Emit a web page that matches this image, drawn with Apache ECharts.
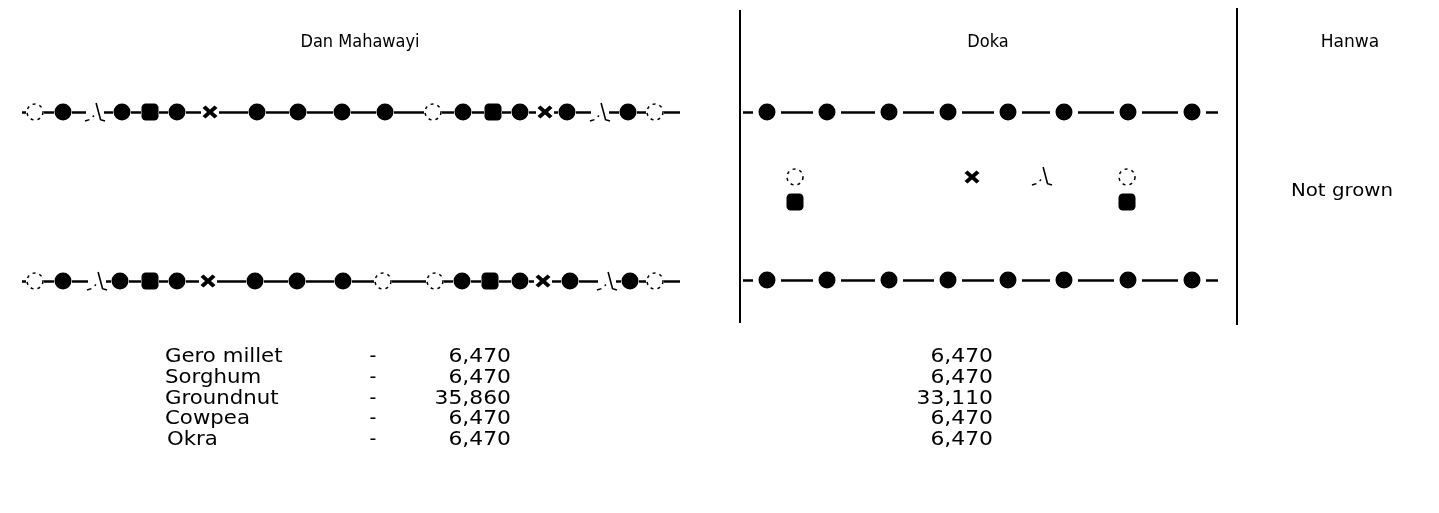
<!DOCTYPE html>
<html>
<head>
    <meta charset="utf-8">
    <title>Planting pattern</title>
    <script src="https://cdn.jsdelivr.net/npm/echarts@6/dist/echarts.min.js"></script>
    <style>
        body { margin: 0; background: #fff; }
        #main { width: 1439px; height: 513px; }
    </style>
</head>
<body>
    <div id="main"></div>
    <script type="text/javascript">
        // plant positions along each row (layout units = px of the field sketch)
        var danTopX = [35, 63, 95, 122, 150, 177, 210, 257, 298, 342, 385, 433, 463, 493, 520, 545, 567, 600, 628, 655];
        var danTopKind = ['open', 'filled', 'okra', 'filled', 'square', 'filled', 'cross', 'filled', 'filled', 'filled',
            'filled', 'open', 'filled', 'square', 'filled', 'cross', 'filled', 'okra', 'filled', 'open'];
        var danBotX = [35, 63, 97, 120, 150, 177, 208, 255, 297, 343, 383, 435, 462, 490, 520, 543, 570, 607, 630, 655];
        var danBotKind = ['open', 'filled', 'okra', 'filled', 'square', 'filled', 'cross', 'filled', 'filled', 'filled',
            'open', 'open', 'filled', 'square', 'filled', 'cross', 'filled', 'okra', 'filled', 'open'];
        var dokaX = [767, 827, 889, 948, 1008, 1064, 1128, 1192];
        var dokaKind = ['filled', 'filled', 'filled', 'filled', 'filled', 'filled', 'filled', 'filled'];
        // intercropped plants between the Doka rows: [x, y, kind]
        var dokaMid = [[795, 177, 'open'], [795, 202, 'square'], [972, 177, 'cross'], [1042, 176, 'okra'],
            [1127, 177, 'open'], [1127, 202, 'square']];

        var rowTopY = 112, rowBotY = 281;

        var crops = ['Gero millet', 'Sorghum', 'Groundnut', 'Cowpea', 'Okra'];
        var danValues = ['6,470', '6,470', '35,860', '6,470', '6,470'];
        var dokaValues = ['6,470', '6,470', '33,110', '6,470', '6,470'];

        var rows = [
            { x: danTopX, kind: danTopKind, y: rowTopY, start: 22, end: 680, gap: 9 },
            { x: danBotX, kind: danBotKind, y: rowBotY, start: 22, end: 680, gap: 9 },
            { x: dokaX, kind: dokaKind, y: rowTopY, start: 743, end: 1218, gap: 14 },
            { x: dokaX, kind: dokaKind, y: rowBotY - 1, start: 743, end: 1218, gap: 14 }
        ];

        var pts = { filled: [], open: [], square: [], cross: [], okra: [] };
        var segs = [];
        rows.forEach(function (r) {
            r.x.forEach(function (x, i) {
                pts[r.kind[i]].push([x, r.y]);
            });
            segs.push({ coords: [[r.start, r.y], [r.x[0] - r.gap, r.y]] });
            for (var i = 0; i < r.x.length - 1; i++) {
                segs.push({ coords: [[r.x[i] + r.gap, r.y], [r.x[i + 1] - r.gap, r.y]] });
            }
            segs.push({ coords: [[r.x[r.x.length - 1] + r.gap, r.y], [r.end, r.y]] });
        });
        dokaMid.forEach(function (p) { pts[p[2]].push([p[0], p[1]]); });

        var myChart = echarts.init(document.getElementById('main'));

        var txt = function (text, x, y, size, align, sx) {
            return {
                type: 'text', x: x, y: y, scaleX: sx || 1,
                style: {
                    text: text, fill: '#000', font: size + 'px "DejaVu Sans"',
                    textAlign: align, textVerticalAlign: 'middle'
                }
            };
        };
        var graphics = [
            txt('Dan Mahawayi', 360, 42, 18, 'center', 0.9),
            txt('Doka', 988, 42, 18, 'center', 0.9),
            txt('Hanwa', 1350, 42, 18, 'center', 0.95),
            txt('Not grown', 1342, 191, 18, 'center', 1.1),
            { type: 'line', shape: { x1: 740, y1: 10, x2: 740, y2: 323 }, style: { stroke: '#000', lineWidth: 2 } },
            { type: 'line', shape: { x1: 1237, y1: 8, x2: 1237, y2: 325 }, style: { stroke: '#000', lineWidth: 2 } }
        ];
        var tableY = [357, 378, 399, 419, 440];
        crops.forEach(function (c, i) {
            graphics.push(txt(c, i === 4 ? 167 : 165, tableY[i], 19, 'left', 1.12));
            graphics.push(txt('-', 373, tableY[i], 19, 'center'));
            graphics.push(txt(danValues[i], 511, tableY[i], 19, 'right', 1.15));
            graphics.push(txt(dokaValues[i], 993, tableY[i], 19, 'right', 1.15));
        });

        var option = {
            animation: false,
            backgroundColor: '#fff',
            grid: { left: 0, right: 0, top: 0, bottom: 0 },
            xAxis: { type: 'value', min: 0, max: 1439, show: false },
            yAxis: { type: 'value', min: 0, max: 513, inverse: true, show: false },
            graphic: graphics,
            series: [
                {
                    type: 'lines', coordinateSystem: 'cartesian2d', data: segs, z: 1,
                    lineStyle: { color: '#000', width: 2.5, opacity: 1 }
                },
                {
                    name: 'Groundnut', type: 'scatter', data: pts.filled, symbol: 'circle', symbolSize: 17, z: 3,
                    itemStyle: { color: '#000', opacity: 1 }
                },
                {
                    name: 'Cowpea', type: 'scatter', data: pts.open, symbol: 'circle', symbolSize: 16, z: 3,
                    itemStyle: { color: '#fff', borderColor: '#000', borderWidth: 1.5, borderType: [3, 4], opacity: 1 }
                },
                {
                    name: 'Sorghum', type: 'scatter', data: pts.square, symbol: 'roundRect', symbolSize: 17, z: 3,
                    itemStyle: { color: '#000', opacity: 1 }
                },
                {
                    name: 'Gero millet', type: 'scatter', data: pts.cross, z: 3, symbolSize: [15, 13],
                    symbol: 'path://M0,2 L2,0 L5,3 L8,0 L10,2 L7,5 L10,8 L8,10 L5,7 L2,10 L0,8 L3,5 Z',
                    itemStyle: { color: '#000', opacity: 1 }
                },
                {
                    name: 'Okra', type: 'scatter', data: pts.okra, z: 3, symbolSize: [20, 18],
                    symbol: 'path://M0,13 L4,12 M7,10 L8,9 M10,0 L14,12 L18,13',
                    itemStyle: { color: 'rgba(0,0,0,0)', borderColor: '#000', borderWidth: 1.5, opacity: 1 }
                }
            ]
        };
        myChart.setOption(option);
    </script>
</body>
</html>
